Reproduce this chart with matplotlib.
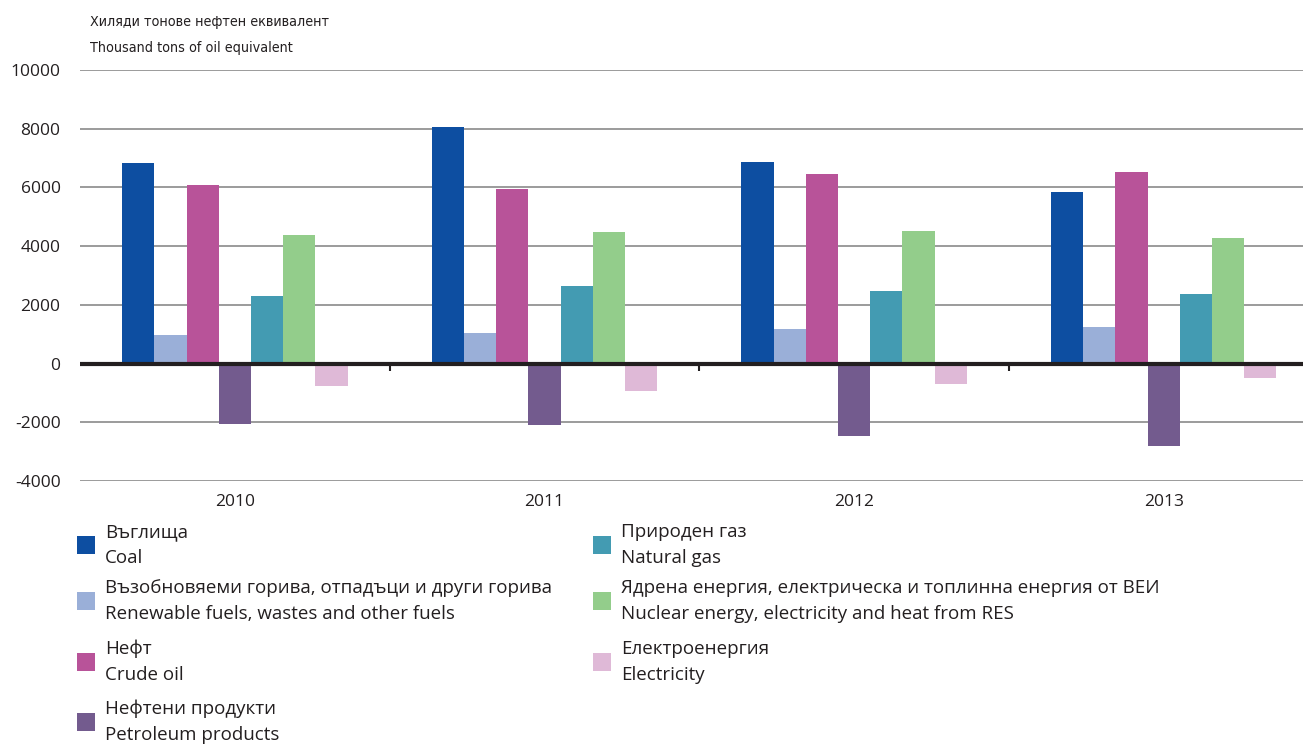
import numpy as np
import matplotlib
matplotlib.use("Agg")
import matplotlib.pyplot as plt
from matplotlib.patches import Rectangle
from matplotlib import font_manager

# data (thousand tons of oil equivalent)
years = ["2010", "2011", "2012", "2013"]
coal = [6830, 8060, 6880, 5840]
renewable = [980, 1040, 1190, 1230]
crude_oil = [6080, 5930, 6450, 6510]
petroleum = [-2050, -2090, -2470, -2800]
natural_gas = [2310, 2650, 2460, 2370]
nuclear = [4380, 4470, 4520, 4290]
electricity = [-750, -930, -690, -500]

labels_bg = ["Въглища", "Възобновяеми горива, отпадъци и други горива", "Нефт",
             "Нефтени продукти", "Природен газ",
             "Ядрена енергия, електрическа и топлинна енергия от ВЕИ", "Електроенергия"]
labels_en = ["Coal", "Renewable fuels, wastes and other fuels", "Crude oil",
             "Petroleum products", "Natural gas",
             "Nuclear energy, electricity and heat from RES", "Electricity"]
colors = ["#0d4ea1", "#9aafd8", "#b85399", "#735b8e", "#439bb2", "#93cd8b", "#dfb9d7"]
series = [coal, renewable, crude_oil, petroleum, natural_gas, nuclear, electricity]
yticks = list(range(-4000, 10001, 2000))

plt.rcParams['font.family'] = ['Open Sans', 'DejaVu Sans']

# narrow face for the axis title, if one is installed
title_font = dict(family=['Open Sans', 'DejaVu Sans'], fontsize=10.5)
for f in font_manager.fontManager.ttflist:
    if f.name == 'Liberation Sans Narrow':
        title_font = dict(family=['Liberation Sans Narrow', 'DejaVu Sans'], fontsize=12)
        break
    if f.name == 'DejaVu Sans' and 'condensed' in str(f.stretch):
        title_font = dict(family=['DejaVu Sans'], fontstretch='condensed', fontsize=10.3)

W, H = 1303, 747
fig = plt.figure(figsize=(W / 100, H / 100), dpi=100)
ax = fig.add_axes([80 / W, 1 - 481 / H, 1 - 80 / W, (481 - 70) / H])

x = np.arange(len(years))
bw = 0.104
n = len(series)
for i, (vals, c) in enumerate(zip(series, colors)):
    ax.bar(x + (i - (n - 1) / 2) * bw, vals, bw, color=c, linewidth=0, zorder=2)

ax.set_xlim(-0.5, 3.45)
ax.set_ylim(-4000, 10000)
ax.set_yticks(yticks, [str(v) for v in yticks])
ax.set_xticks(x, years)
ax.grid(axis='y', color='#808080', linewidth=1.1, zorder=0)
ax.set_axisbelow(True)
for s in ax.spines.values():
    s.set_visible(False)
ax.tick_params(axis='y', length=0, pad=14, labelsize=12.5, labelcolor='#231f20')
ax.tick_params(axis='x', length=0, pad=9, labelsize=12.5, labelcolor='#231f20')

# zero line and group separators
ax.axhline(0, color='#231f20', linewidth=3, zorder=3)
ax.vlines(x[:-1] + 0.5, -240, 0, color='#231f20', linewidth=1.5, zorder=3)

# axis title
fig.text(90 / W, 1 - 22 / H, "Хиляди тонове нефтен еквивалент",
         va='center', ha='left', color='#231f20', **title_font)
fig.text(90 / W, 1 - 48 / H, "Thousand tons of oil equivalent",
         va='center', ha='left', color='#231f20', **title_font)

# legend, two columns
col_x = [77, 593]
row_y = [545, 601, 662, 722]
for i in range(n):
    col = 0 if i < 4 else 1
    row = i if i < 4 else i - 4
    sx, sy = col_x[col], row_y[row]
    fig.add_artist(Rectangle((sx / W, 1 - (sy + 9) / H), 18 / W, 18 / H,
                             transform=fig.transFigure, color=colors[i], linewidth=0))
    fig.text((sx + 28) / W, 1 - (sy - 13) / H, labels_bg[i], fontsize=13.5,
             va='center', ha='left', color='#231f20')
    fig.text((sx + 28) / W, 1 - (sy + 13) / H, labels_en[i], fontsize=13.5,
             va='center', ha='left', color='#231f20')

fig.savefig("out.png", dpi=100, facecolor='white')
